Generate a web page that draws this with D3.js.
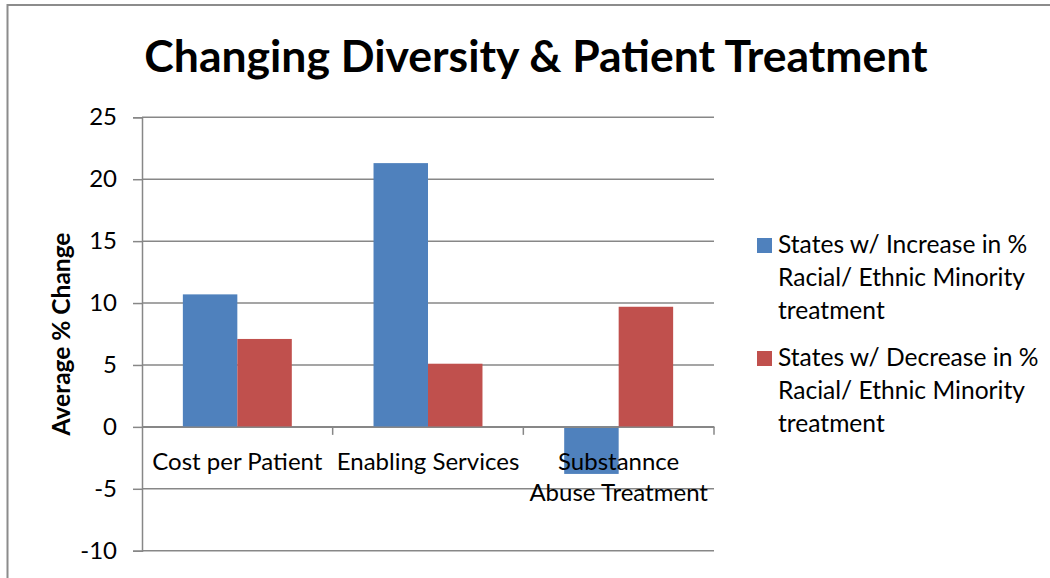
<!DOCTYPE html>
<html>
<head>
<meta charset="utf-8">
<script src="https://cdn.jsdelivr.net/npm/d3@7/dist/d3.min.js"></script>
<style>
  html, body { margin: 0; padding: 0; background: #ffffff; }
  svg { display: block; }
  text { font-family: Lato, "Open Sans", "Liberation Sans", sans-serif; fill: #000; }
</style>
</head>
<body>
<svg id="chart" width="1050" height="578"></svg>
<script>
// Chart data
const categories = ["Cost per Patient", "Enabling Services", "Substannce\nAbuse Treatment"];
const seriesNames = [
  "States w/ Increase in %\nRacial/ Ethnic Minority\ntreatment",
  "States w/ Decrease in %\nRacial/ Ethnic Minority\ntreatment"
];
const increaseValues = [10.7, 21.3, -3.8];
const decreaseValues = [7.1, 5.1, 9.7];
const tickValues = [-10, -5, 0, 5, 10, 15, 20, 25];
const seriesColors = ["#4F81BD", "#C0504D"];
const titleText = "Changing Diversity & Patient Treatment";
const yAxisTitle = "Average % Change";

const seriesValues = [increaseValues, decreaseValues];
const rows = categories.map((c, i) => ({
  category: c,
  values: seriesNames.map((s, j) => ({ series: s, idx: j, value: seriesValues[j][i] }))
}));

const svg = d3.select("#chart");
const plot = { left: 142, right: 714, top: 117.3, bottom: 550.7 };
const gridColor = "#878787";

// Outer frame (top and left edges visible)
svg.append("path")
  .attr("d", "M7.5,578 L7.5,5 L1050,5")
  .attr("fill", "none")
  .attr("stroke", "#8c8c8c")
  .attr("stroke-width", 2);

// Scales
const y = d3.scaleLinear().domain([-10, 25]).range([plot.bottom, plot.top]);
const x0 = d3.scaleBand().domain(categories).range([plot.left, plot.right]).padding(0);
const x1 = d3.scaleBand().domain(seriesNames).range([0, x0.bandwidth()])
  .paddingInner(0).paddingOuter(0.75);

// Horizontal gridlines + y axis
const yAxis = d3.axisLeft(y).tickValues(tickValues).tickSize(9).tickPadding(16)
  .tickFormat(d => String(d));
const yg = svg.append("g").attr("transform", `translate(${plot.left},0)`).call(yAxis);
yg.select(".domain").attr("stroke", gridColor).attr("stroke-width", 1.5);
yg.selectAll(".tick line").attr("stroke", gridColor).attr("stroke-width", 1.5);
yg.selectAll(".tick text").style("font-size", "24px").attr("fill", "#000");

svg.append("g").selectAll("line").data(tickValues).join("line")
  .attr("x1", plot.left).attr("x2", plot.right)
  .attr("y1", d => y(d)).attr("y2", d => y(d))
  .attr("stroke", gridColor).attr("stroke-width", 1.5);

// Bars
const groups = svg.append("g").selectAll("g").data(rows).join("g")
  .attr("transform", d => `translate(${x0(d.category)},0)`);
groups.selectAll("rect").data(d => d.values).join("rect")
  .attr("x", d => x1(d.series))
  .attr("width", x1.bandwidth())
  .attr("y", d => y(Math.max(0, d.value)))
  .attr("height", d => Math.abs(y(d.value) - y(0)))
  .attr("fill", d => seriesColors[d.idx]);

// Category axis at zero
const xAxis = d3.axisBottom(x0).tickSize(0).tickFormat("");
const xg = svg.append("g").attr("transform", `translate(0,${y(0)})`).call(xAxis);
xg.select(".domain").attr("stroke", gridColor).attr("stroke-width", 1.5);
// Tick marks on category boundaries
const boundaries = categories.map(c => x0(c) + x0.bandwidth());
svg.append("g").selectAll("line").data(boundaries).join("line")
  .attr("x1", d => d).attr("x2", d => d)
  .attr("y1", y(0)).attr("y2", y(0) + 8)
  .attr("stroke", gridColor).attr("stroke-width", 1.5);

// Category labels
const catLabels = svg.append("g").selectAll("text").data(categories).join("text")
  .attr("text-anchor", "middle")
  .attr("transform", d => `translate(${x0(d) + x0.bandwidth() / 2},${y(0) + 43})`)
  .style("font-size", "24px");
catLabels.selectAll("tspan").data(d => d.split("\n")).join("tspan")
  .attr("x", 0).attr("dy", (d, i) => i === 0 ? 0 : 31.5)
  .text(d => d);

// Title
svg.append("text")
  .attr("x", 536).attr("y", 72)
  .attr("text-anchor", "middle")
  .style("font-size", "44.5px").style("font-weight", "bold")
  .text(titleText);

// Y axis title
svg.append("text")
  .attr("transform", `translate(70,${334}) rotate(-90)`)
  .attr("text-anchor", "middle")
  .style("font-size", "24.5px").style("font-weight", "bold")
  .text(yAxisTitle);

// Legend
const legend = svg.append("g").attr("transform", "translate(757,0)");
const entries = legend.selectAll("g").data(seriesNames).join("g")
  .attr("transform", (d, i) => `translate(0,${253 + i * 113})`);
entries.append("rect")
  .attr("x", 0).attr("y", -15).attr("width", 15).attr("height", 15)
  .attr("fill", (d, i) => seriesColors[i]);
const lt = entries.append("text").attr("x", 21).style("font-size", "24.6px");
lt.selectAll("tspan").data(d => d.split("\n")).join("tspan")
  .attr("x", 21).attr("dy", (d, i) => i === 0 ? 0 : 33)
  .text(d => d);
</script>
</body>
</html>
